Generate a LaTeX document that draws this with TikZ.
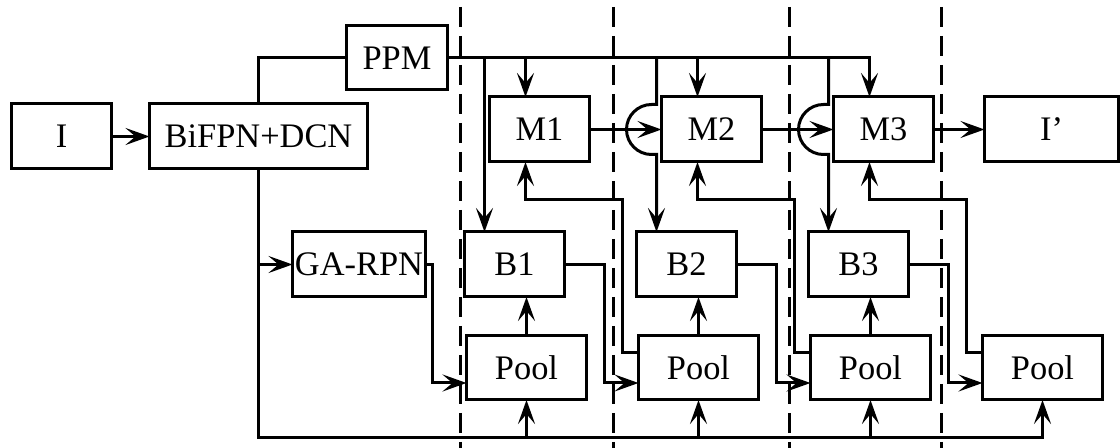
\documentclass[tikz,border=0pt]{standalone}
\usepackage{fontspec}
\setmainfont{Liberation Serif}
\usetikzlibrary{positioning,arrows.meta}

\begin{document}
\begin{tikzpicture}[
  node distance=19pt,
  font=\fontsize{17.2}{20}\selectfont,
  block/.style={draw, line width=1.5pt, minimum width=50pt, minimum height=32.5pt, inner sep=0pt, outer sep=0pt, align=center},
  pool/.style={block, minimum width=60pt, minimum height=32pt},
  wire/.style={line width=1.5pt},
  link/.style={wire, -{Stealth[length=12pt, width=8.5pt, inset=5pt]}},
  sep/.style={line width=1.5pt, dash pattern=on 10pt off 4.5pt}
]
  \useasboundingbox (0,0) rectangle (560pt,-224pt);

  \node[block] (img) at (30.75pt,-68.25pt) {I};
  \node[block, minimum width=109pt, right=19pt of img] (bifpn) {BiFPN+DCN};
  \node[block, minimum width=50.5pt, minimum height=32pt, above right=7pt and -10.5pt of bifpn] (ppm) {PPM};
  \node[block, below right=3.5pt and 21pt of ppm] (m1) {M1};
  \node[block, right=36pt of m1] (m2) {M2};
  \node[block, right=36pt of m2] (m3) {M3};
  \node[block, minimum width=67pt, right=25.5pt of m3] (out) {I’};
  \node[block, minimum width=66.5pt, below right=31.5pt and -37.5pt of bifpn] (garpn) {GA-RPN};
  \node[block, right=19.5pt of garpn] (b1) {B1};
  \node[block, right=36pt of b1] (b2) {B2};
  \node[block, right=36pt of b2] (b3) {B3};
  \node[pool, below=19.5pt of b1, xshift=6pt] (pool1) {Pool};
  \node[pool, below=19.5pt of b2, xshift=6pt] (pool2) {Pool};
  \node[pool, below=19.5pt of b3, xshift=6pt] (pool3) {Pool};
  \node[pool, right=26pt of pool3] (pool4) {Pool};

  \coordinate (m1-in) at ([xshift=18pt]m1.north west);
  \coordinate (m2-in) at ([xshift=18pt]m2.north west);
  \coordinate (m3-in) at ([xshift=18pt]m3.north west);
  \coordinate (m1-out) at ([xshift=18pt]m1.south west);
  \coordinate (m2-out) at ([xshift=18pt]m2.south west);
  \coordinate (m3-out) at ([xshift=18pt]m3.south west);
  \coordinate (b1-in) at ([xshift=10pt]b1.north west);
  \coordinate (b2-in) at ([xshift=10pt]b2.north west);
  \coordinate (b3-in) at ([xshift=10pt]b3.north west);
  \coordinate (hop2) at (b2-in |- m1.east);
  \coordinate (hop3) at (b3-in |- m2.east);
  \coordinate (pool1-lo) at ([yshift=-7.5pt]pool1.west);
  \coordinate (pool2-lo) at ([yshift=-7.5pt]pool2.west);
  \coordinate (pool3-lo) at ([yshift=-7.5pt]pool3.west);
  \coordinate (pool4-lo) at ([yshift=-7.5pt]pool4.west);
  \coordinate (pool2-hi) at ([yshift=7.5pt]pool2.west);
  \coordinate (pool3-hi) at ([yshift=7.5pt]pool3.west);
  \coordinate (pool4-hi) at ([yshift=7.5pt]pool4.west);
  \coordinate (base) at ([yshift=-19pt]pool4.south);

  \draw[sep] (230pt,-3.5pt) -- (230pt,-224pt);
  \draw[sep] (306.5pt,-3.5pt) -- (306.5pt,-224pt);
  \draw[sep] (394.5pt,-3.5pt) -- (394.5pt,-224pt);
  \draw[sep] (470.5pt,-3.5pt) -- (470.5pt,-224pt);

  \draw[link] (img) -- (bifpn);
  \draw[wire] (bifpn.north) |- (ppm.west);
  \draw[link] (ppm.east) -| (m3-in);
  \draw[link] (ppm.east -| m1-in) -- (m1-in);
  \draw[link] (ppm.east -| m2-in) -- (m2-in);
  \draw[link] (ppm.east -| b1-in) -- (b1-in);
  \draw[link] (ppm.east -| b2-in) -- ([yshift=12.5pt]hop2) -- ++(-2.5pt,0)
    arc[start angle=90, end angle=270, radius=12.5pt] -- ++(2.5pt,0) -- (b2-in);
  \draw[link] (ppm.east -| b3-in) -- ([yshift=12.5pt]hop3) -- ++(-2.5pt,0)
    arc[start angle=90, end angle=270, radius=12.5pt] -- ++(2.5pt,0) -- (b3-in);
  \draw[link] (m1) -- (m2);
  \draw[link] (m2) -- (m3);
  \draw[link] (m3) -- (out);

  \draw[link] (bifpn.south) |- (base) -- (pool4.south);
  \draw[link] (bifpn.south |- garpn.west) -- (garpn.west);
  \draw[link] (pool1.south |- base) -- (pool1.south);
  \draw[link] (pool2.south |- base) -- (pool2.south);
  \draw[link] (pool3.south |- base) -- (pool3.south);

  \draw[link] (pool1.north) -- (pool1.north |- b1.south);
  \draw[link] (pool2.north) -- (pool2.north |- b2.south);
  \draw[link] (pool3.north) -- (pool3.north |- b3.south);

  \draw[link] (garpn.east) -| ([xshift=-17pt]pool1-lo) -- (pool1-lo);
  \draw[link] (b1.east) -| ([xshift=-17pt]pool2-lo) -- (pool2-lo);
  \draw[link] (b2.east) -| ([xshift=-17pt]pool3-lo) -- (pool3-lo);
  \draw[link] (b3.east) -| ([xshift=-17pt]pool4-lo) -- (pool4-lo);

  \draw[link] (pool2-hi) -- ++(-8pt,0) |- ([yshift=-19pt]m1-out) -- (m1-out);
  \draw[link] (pool3-hi) -- ++(-8pt,0) |- ([yshift=-19pt]m2-out) -- (m2-out);
  \draw[link] (pool4-hi) -- ++(-8pt,0) |- ([yshift=-19pt]m3-out) -- (m3-out);
\end{tikzpicture}
\end{document}
